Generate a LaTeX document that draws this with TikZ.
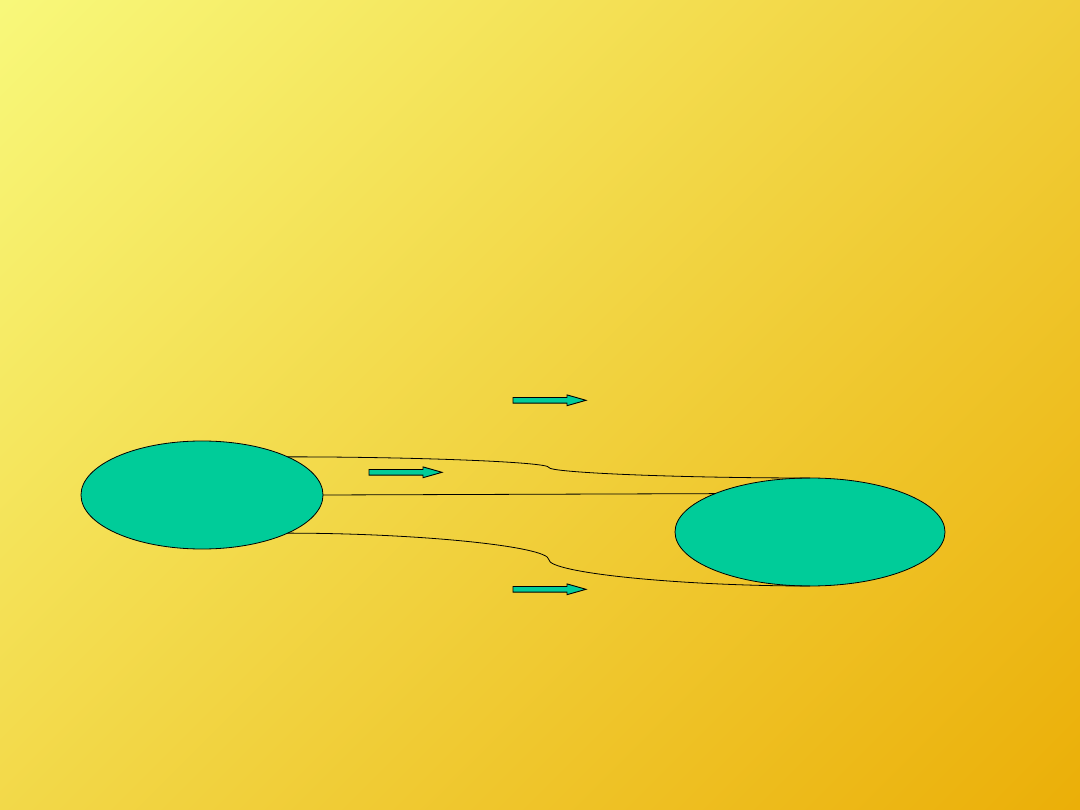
\documentclass[tikz,border=0pt]{standalone}
\usetikzlibrary{shapes.geometric}
\definecolor{bgA}{RGB}{248,248,122}
\definecolor{bgB}{RGB}{235,175,8}
\definecolor{ovalgreen}{RGB}{0,204,153}
\pgfdeclarehorizontalshading{bgshade}{100bp}{color(0bp)=(bgA); color(14.64bp)=(bgA); color(85.36bp)=(bgB); color(100bp)=(bgB)}
\begin{document}
\begin{tikzpicture}[x=1pt,y=-1pt,
  oval/.style={ellipse, draw=black, line width=0.8pt, fill=ovalgreen, inner sep=0pt, outer sep=0pt},
  link/.style={draw=black, line width=0.8pt},
  blockarrow/.style={draw=black, line width=0.9pt, fill=ovalgreen, line join=miter}]
\useasboundingbox (0,0) rectangle (1080,810);
\shade[shading=bgshade, shading angle=-45] (0,0) rectangle (1080,810);
% ovals
\node[oval, minimum width=242pt, minimum height=108pt] (L) at (202,495) {};
\node[oval, minimum width=270pt, minimum height=108pt] (R) at (810,532) {};
% connectors
\coordinate (m1) at (548.8,467.4);
\coordinate (m2) at (548.8,559.6);
\draw[link] (L.24.05) .. controls +(130.6,0) and +(0,-5.3) .. (m1)
  .. controls +(0,5.3) and +(-130.6,0) .. (R.north);
\draw[link] (L.east) -- (R.158.2);
\draw[link] (L.-24.05) .. controls +(130.6,0) and +(0,-13.2) .. (m2)
  .. controls +(0,13.2) and +(-130.6,0) .. (R.south);
% block arrows
\coordinate (a1) at (513,400.3);
\coordinate (a2) at (369,472.3);
\coordinate (a3) at (513,589.3);
\foreach \a in {a1,a2,a3}{
  \draw[blockarrow] (\a) ++(0,-2.8) -- ++(54,0) -- ++(0,-2.6) -- ++(19,5.4)
    -- ++(-19,5.4) -- ++(0,-2.6) -- ++(-54,0) -- cycle;
}
\end{tikzpicture}
\end{document}
